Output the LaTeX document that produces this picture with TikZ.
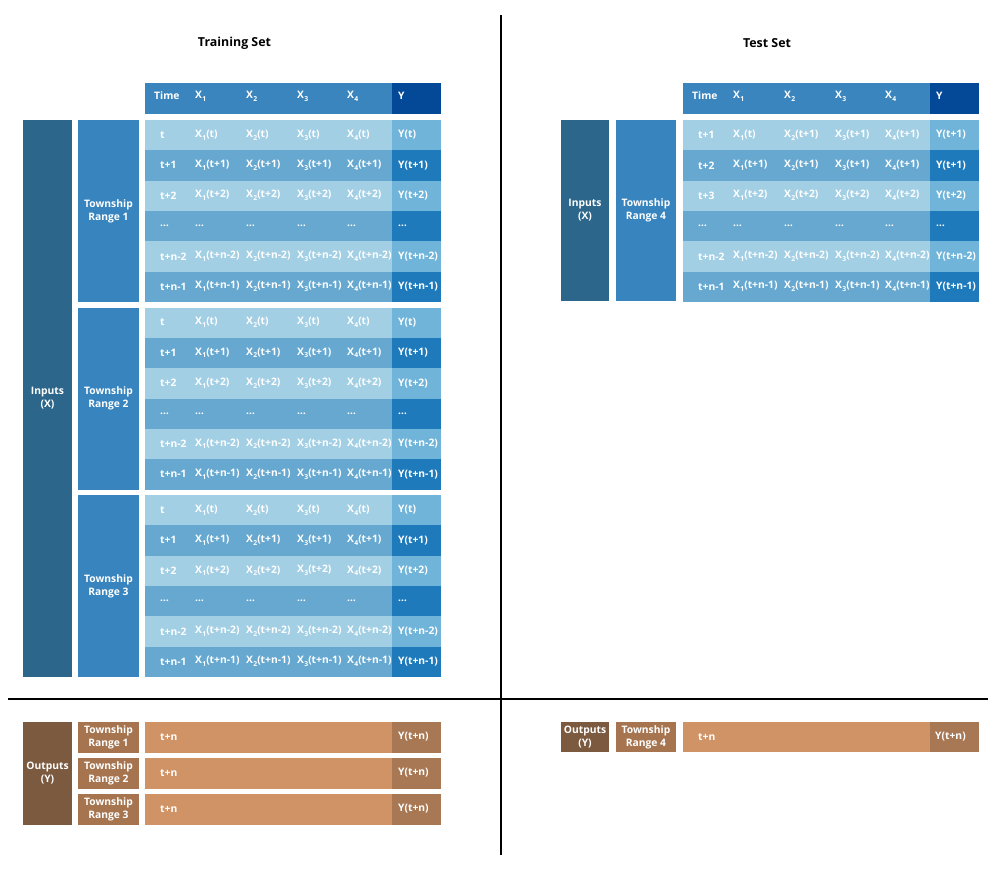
\documentclass[tikz,border=0pt]{standalone}
\usepackage{fontspec}
\setmainfont{Open Sans}
\definecolor{hdr}{RGB}{58,133,190}
\definecolor{hdrY}{RGB}{4,72,152}
\definecolor{rowL}{RGB}{163,207,228}
\definecolor{rowM}{RGB}{103,168,208}
\definecolor{yL}{RGB}{113,180,217}
\definecolor{yM}{RGB}{30,122,187}
\definecolor{twp}{RGB}{55,132,190}
\definecolor{inp}{RGB}{44,103,139}
\definecolor{outD}{RGB}{123,90,64}
\definecolor{twpB}{RGB}{166,117,80}
\definecolor{barB}{RGB}{208,147,102}
\definecolor{barY}{RGB}{168,120,84}
% X with a small lowered index
\newcommand\xs[1]{X\kern0.3pt\raisebox{-0.5ex}{\fontsize{6.8}{7}\selectfont #1}}
% one table row: name, left x, top y, shade (L/M), six cell texts
\newcommand\tblrow[5]{%
  \node[cell, fill=row#4, minimum width=247] (#1) at (#2,#3) {};
  \node[cell, fill=y#4, minimum width=49] (#1y) at (#2+247,#3) {};
  \foreach \s [count=\k from 0] in {#5} {
    \pgfmathsetmacro\ox{{15,50,101,152,202,253}[\k]}
    \node[txt] (#1-\k) at (#2+\ox,#3+15) {\s};
  }%
}
% one training block of six rows: name, top y
\newcommand\trainblock[2]{%
  \tblrow{#1r0}{145}{#2}{L}{t,{\xs{1}(t)},{\xs{2}(t)},{\xs{3}(t)},{\xs{4}(t)},Y(t)}
  \tblrow{#1r1}{145}{#2+30.333}{M}{t+1,{\xs{1}(t+1)},{\xs{2}(t+1)},{\xs{3}(t+1)},{\xs{4}(t+1)},Y(t+1)}
  \tblrow{#1r2}{145}{#2+60.667}{L}{t+2,{\xs{1}(t+2)},{\xs{2}(t+2)},{\xs{3}(t+2)},{\xs{4}(t+2)},Y(t+2)}
  \tblrow{#1r3}{145}{#2+91}{M}{…,…,…,…,…,…}
  \tblrow{#1r4}{145}{#2+121.333}{L}{t+n-2,{\xs{1}(t+n-2)},{\xs{2}(t+n-2)},{\xs{3}(t+n-2)},{\xs{4}(t+n-2)},Y(t+n-2)}
  \tblrow{#1r5}{145}{#2+151.667}{M}{t+n-1,{\xs{1}(t+n-1)},{\xs{2}(t+n-1)},{\xs{3}(t+n-1)},{\xs{4}(t+n-1)},Y(t+n-1)}
}
\begin{document}
\begin{tikzpicture}[x=1pt,y=-1pt,
  cell/.style={anchor=north west, inner sep=0, outer sep=0, minimum height=30.8, draw=none},
  txt/.style={anchor=west, inner sep=0, text=white, font=\fontsize{10.3}{12}\selectfont\bfseries},
  lbl/.style={anchor=north west, inner sep=0, outer sep=0, align=center, text=white,
    font=\fontsize{10.3}{13}\selectfont\bfseries},
  title/.style={inner sep=0, font=\fontsize{12.4}{14}\selectfont\bfseries},
  divider/.style={line width=2.6pt, black}]
\useasboundingbox (0,0) rectangle (1000,870);

% titles
\node[title] (trainT) at (234.5,43) {Training Set};
\node[title] (testT) at (767,43) {Test Set};

% dividing lines
\coordinate (vt) at (501,15);
\coordinate (vb) at (501,855);
\coordinate (hl) at (8,699);
\coordinate (hr) at (988,699);
\draw[divider] (vt) -- (vb);
\draw[divider] (hl) -- (hr);

% ---------- training set ----------
\node[cell, fill=hdr, minimum width=247, minimum height=31] (trH) at (145,83) {};
\node[cell, fill=hdrY, minimum width=49, minimum height=31] (trHY) at (392,83) {};
\foreach \s [count=\k from 0] in {Time,{\xs{1}},{\xs{2}},{\xs{3}},{\xs{4}},Y} {
  \pgfmathsetmacro\ox{{9,50,101,152,202,253}[\k]}
  \node[txt] (trH-\k) at (145+\ox,96) {\s};
}
\trainblock{ba}{120}
\trainblock{bb}{307.5}
\trainblock{bc}{495}

\node[lbl, fill=inp, minimum width=49, minimum height=557] (trIn) at (23,120) {Inputs\\(X)};
\node[lbl, fill=twp, minimum width=61, minimum height=182] (tr1) at (78,120) {Township\\Range 1};
\node[lbl, fill=twp, minimum width=61, minimum height=182] (tr2) at (78,307.5) {Township\\Range 2};
\node[lbl, fill=twp, minimum width=61, minimum height=182] (tr3) at (78,495) {Township\\Range 3};

% training outputs
\node[lbl, fill=outD, minimum width=49, minimum height=103] (trOut) at (23,722) {Outputs\\(Y)};
\foreach \i/\yy in {1/722,2/758,3/794} {
  \node[lbl, fill=twpB, minimum width=61, minimum height=30.5] (to\i) at (78,\yy) {Township\\Range \i};
  \node[cell, fill=barB, minimum width=247, minimum height=30.5] (tb\i) at (145,\yy) {};
  \node[cell, fill=barY, minimum width=49, minimum height=30.5] (tb\i y) at (392,\yy) {};
  \node[txt] (tb\i t) at (160,\yy+15) {t+n};
  \node[txt] (tb\i v) at (398,\yy+15) {Y(t+n)};
}

% ---------- test set ----------
\node[cell, fill=hdr, minimum width=247, minimum height=31] (teH) at (683,83) {};
\node[cell, fill=hdrY, minimum width=49, minimum height=31] (teHY) at (930,83) {};
\foreach \s [count=\k from 0] in {Time,{\xs{1}},{\xs{2}},{\xs{3}},{\xs{4}},Y} {
  \pgfmathsetmacro\ox{{9,50,101,152,202,253}[\k]}
  \node[txt] (teH-\k) at (683+\ox,96) {\s};
}
\tblrow{ter0}{683}{120}{L}{t+1,{\xs{1}(t)},{\xs{2}(t+1)},{\xs{3}(t+1)},{\xs{4}(t+1)},Y(t+1)}
\tblrow{ter1}{683}{150.333}{M}{t+2,{\xs{1}(t+1)},{\xs{2}(t+1)},{\xs{3}(t+1)},{\xs{4}(t+1)},Y(t+1)}
\tblrow{ter2}{683}{180.667}{L}{t+3,{\xs{1}(t+2)},{\xs{2}(t+2)},{\xs{3}(t+2)},{\xs{4}(t+2)},Y(t+2)}
\tblrow{ter3}{683}{211}{M}{…,…,…,…,…,…}
\tblrow{ter4}{683}{241.333}{L}{t+n-2,{\xs{1}(t+n-2)},{\xs{2}(t+n-2)},{\xs{3}(t+n-2)},{\xs{4}(t+n-2)},Y(t+n-2)}
\tblrow{ter5}{683}{271.667}{M}{t+n-1,{\xs{1}(t+n-1)},{\xs{2}(t+n-1)},{\xs{3}(t+n-1)},{\xs{4}(t+n-1)},Y(t+n-1)}

\node[lbl, fill=inp, minimum width=48, minimum height=181] (teIn) at (561,120) {Inputs\\(X)};
\node[lbl, fill=twp, minimum width=60, minimum height=181] (te4) at (616,120) {Township\\Range 4};

% test outputs
\node[lbl, fill=outD, minimum width=48, minimum height=30] (teOut) at (561,722) {Outputs\\(Y)};
\node[lbl, fill=twpB, minimum width=60, minimum height=30] (to4) at (616,722) {Township\\Range 4};
\node[cell, fill=barB, minimum width=247, minimum height=30] (tb4) at (683,722) {};
\node[cell, fill=barY, minimum width=49, minimum height=30] (tb4y) at (930,722) {};
\node[txt] (tb4t) at (698,737) {t+n};
\node[txt] (tb4v) at (935,737) {Y(t+n)};
\end{tikzpicture}
\end{document}
